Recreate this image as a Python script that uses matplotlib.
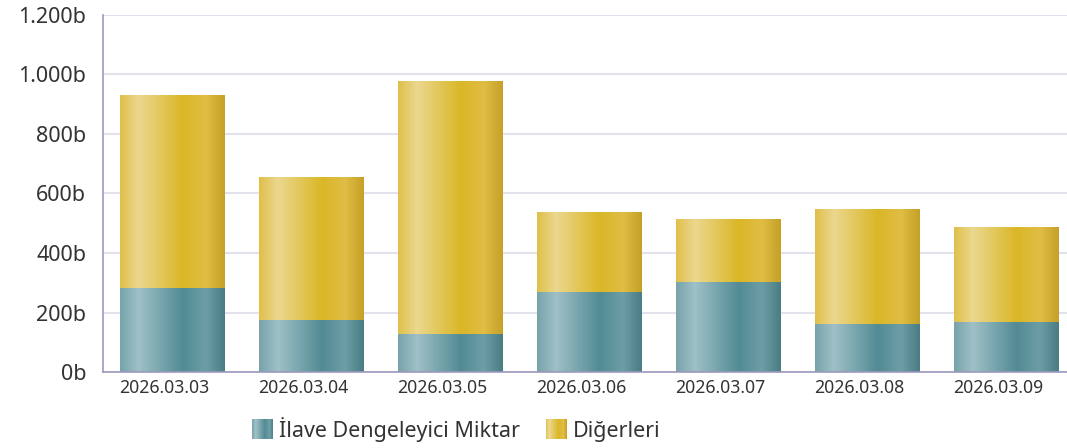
import matplotlib
matplotlib.use('Agg')
import matplotlib.pyplot as plt
import matplotlib.transforms as mtransforms
import numpy as np
from matplotlib.colors import LinearSegmentedColormap
from matplotlib.patches import Patch, Rectangle
from matplotlib.legend_handler import HandlerBase
from matplotlib.ticker import FuncFormatter

dates = ['2026.03.03', '2026.03.04', '2026.03.05', '2026.03.06',
         '2026.03.07', '2026.03.08', '2026.03.09']
ilave = [282, 175, 128, 268, 302, 161, 168]
digerleri = [648, 479, 849, 266, 211, 386, 319]
series_names = ['İlave Dengeleyici Miktar', 'Diğerleri']
y_ticks = [0, 200, 400, 600, 800, 1000, 1200]

plt.rcParams['font.family'] = ['Noto Sans', 'DejaVu Sans']
text_col = '#333333'

# horizontal "cylinder" shading for each series
teal = LinearSegmentedColormap.from_list('teal', [
    (0.0, '#78a3ab'), (0.18, '#9fc0c6'), (0.6, '#528b94'),
    (0.82, '#6d9ea6'), (1.0, '#4a7c84')])
gold = LinearSegmentedColormap.from_list('gold', [
    (0.0, '#e0c049'), (0.18, '#ebd78f'), (0.6, '#dab726'),
    (0.82, '#e0bd44'), (1.0, '#c6a027')])
grad = np.linspace(0, 1, 256).reshape(1, -1)


class GradientHandler(HandlerBase):
    def __init__(self, cmap):
        super().__init__()
        self.cmap = cmap

    def create_artists(self, legend, orig_handle, xdescent, ydescent,
                       width, height, fontsize, trans):
        n = 30
        out = []
        for i in range(n):
            r = Rectangle((-xdescent + width * i / n, -ydescent), width / n * 1.05, height,
                          facecolor=self.cmap((i + 0.5) / n), edgecolor='none',
                          transform=trans)
            out.append(r)
        return out


fig = plt.figure(figsize=(10.67, 4.48), dpi=100)
ax = fig.add_axes([0.0965, 0.1696, 0.912, 0.797])

x = np.arange(len(dates))
b1 = ax.bar(x, ilave, width=0.755, color='none', edgecolor='none')
b2 = ax.bar(x, digerleri, width=0.755, bottom=ilave, color='none', edgecolor='none')

for bars, cmap in [(b1, teal), (b2, gold)]:
    for r in bars:
        x0, y0 = r.get_x(), r.get_y()
        ax.imshow(grad, cmap=cmap, aspect='auto', interpolation='bicubic',
                  extent=[x0, x0 + r.get_width(), y0, y0 + r.get_height()], zorder=2)

ax.set_xlim(-0.5, len(dates) - 0.5)
ax.set_ylim(0, 1200)
ax.set_yticks(y_ticks)
ax.yaxis.set_major_formatter(FuncFormatter(lambda v, p: '{:,}b'.format(int(v)).replace(',', '.')))
ax.set_xticks(x)
ax.set_xticklabels(dates)
ax.tick_params(axis='y', length=0, pad=12, labelsize=15.5, labelcolor=text_col)
ax.tick_params(axis='x', length=0, pad=5, labelsize=12.7, labelcolor=text_col)

# the category labels sit a bit left of the bar centres
shift = mtransforms.ScaledTranslation(-8 / 100, 0, fig.dpi_scale_trans)
for lab in ax.get_xticklabels():
    lab.set_transform(lab.get_transform() + shift)

ax.set_axisbelow(True)
ax.grid(axis='y', color='#e3e2ec', linewidth=1.5)
for s in ['top', 'right']:
    ax.spines[s].set_visible(False)
for s in ['left', 'bottom']:
    ax.spines[s].set_color('#9c99bd')
    ax.spines[s].set_linewidth(1.2)

h1 = Patch(label=series_names[0])
h2 = Patch(label=series_names[1])
fig.legend(handles=[h1, h2], loc='center', bbox_to_anchor=(456 / 1067, 0.042),
           ncol=2, frameon=False, fontsize=15.5, labelcolor=text_col,
           handlelength=1.0, handleheight=1.05, handletextpad=0.25, columnspacing=1.2,
           handler_map={h1: GradientHandler(teal), h2: GradientHandler(gold)})

fig.savefig('out.png', dpi=100)
